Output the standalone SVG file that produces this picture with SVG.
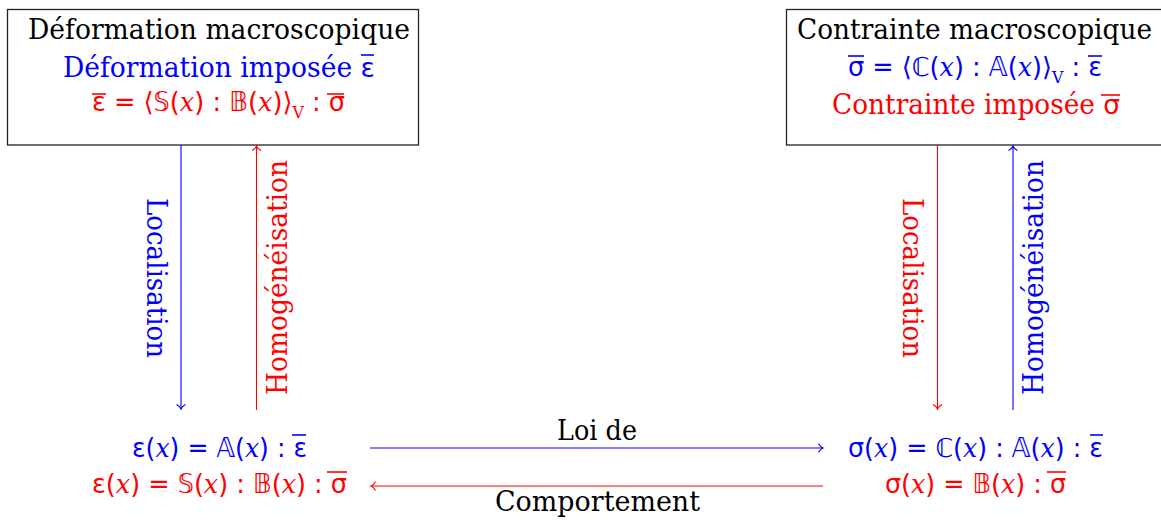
<svg xmlns="http://www.w3.org/2000/svg" width="1161" height="521" viewBox="0 0 1161 521">
<defs>
<style>
.t{font-family:"DejaVu Serif","Liberation Serif",serif;font-size:27px}
.m{font-family:"DejaVu Sans","Liberation Sans",sans-serif;font-size:26px}
.g{font-family:"DejaVu Sans",sans-serif}
.x{font-family:"DejaVu Serif","Liberation Serif",serif;font-style:italic}
.sub{font-family:"DejaVu Serif","Liberation Serif",serif;font-size:16px}
.b{fill:#0000ff}
.r{fill:#ff0000}
.k{fill:#000000}
.box{fill:#ffffff;stroke:#222222;stroke-width:1.3}
.cb{stroke:#0000ff;stroke-width:1.1;fill:none}
.cr{stroke:#ff0000;stroke-width:1.1;fill:none}
.ob{stroke:#0000ff;stroke-width:1.6}
.or{stroke:#ff0000;stroke-width:1.6}
</style>
<marker id="ab" markerUnits="userSpaceOnUse" markerWidth="12" markerHeight="12" refX="0" refY="0" viewBox="-6 -6 12 12" orient="auto" overflow="visible">
<path d="M -4.5 -4.5 C -3 -1.6 -1.2 -0.4 0 0 C -1.2 0.4 -3 1.6 -4.5 4.5" fill="none" stroke="#0000ff" stroke-width="1.1"/>
</marker>
<marker id="ar" markerUnits="userSpaceOnUse" markerWidth="12" markerHeight="12" refX="0" refY="0" viewBox="-6 -6 12 12" orient="auto" overflow="visible">
<path d="M -4.5 -4.5 C -3 -1.6 -1.2 -0.4 0 0 C -1.2 0.4 -3 1.6 -4.5 4.5" fill="none" stroke="#ff0000" stroke-width="1.1"/>
</marker>
</defs>
<rect width="1161" height="521" fill="#ffffff"/>

<g id="macro-deformation">
<rect class="box" x="7.5" y="9.5" width="411" height="135.5"/>
<text class="t k" x="28" y="39" textLength="382" lengthAdjust="spacingAndGlyphs">Déformation macroscopique</text>
<text class="t b" x="63" y="77" textLength="312" lengthAdjust="spacingAndGlyphs">Déformation imposée <tspan class="g">ε</tspan></text>
<line class="ob" x1="361" y1="55" x2="374" y2="55"/>
<text class="m r" x="92" y="111" textLength="253" lengthAdjust="spacingAndGlyphs">ε = ⟨𝕊(<tspan class="x">x</tspan>) : 𝔹(<tspan class="x">x</tspan>)⟩<tspan class="sub" dy="7">V</tspan><tspan dy="-7"> : σ</tspan></text>
<line class="or" x1="92" y1="94" x2="106" y2="94"/>
<line class="or" x1="327" y1="94" x2="344" y2="94"/>
</g>

<g id="macro-contrainte">
<rect class="box" x="786.5" y="9.5" width="390" height="135.5"/>
<text class="t k" x="797" y="39" textLength="355" lengthAdjust="spacingAndGlyphs">Contrainte macroscopique</text>
<text class="m b" x="848" y="76" textLength="254" lengthAdjust="spacingAndGlyphs">σ = ⟨ℂ(<tspan class="x">x</tspan>) : 𝔸(<tspan class="x">x</tspan>)⟩<tspan class="sub" dy="7">V</tspan><tspan dy="-7"> : ε</tspan></text>
<line class="ob" x1="848" y1="56" x2="864" y2="56"/>
<line class="ob" x1="1088" y1="56" x2="1102" y2="56"/>
<text class="t r" x="832" y="114" textLength="288" lengthAdjust="spacingAndGlyphs">Contrainte imposée <tspan class="g">σ</tspan></text>
<line class="or" x1="1101" y1="95" x2="1120" y2="95"/>
</g>

<g id="micro-deformation">
<text class="m b" x="132" y="457" textLength="175" lengthAdjust="spacingAndGlyphs">ε(<tspan class="x">x</tspan>) = 𝔸(<tspan class="x">x</tspan>) : ε</text>
<line class="ob" x1="292" y1="435" x2="306" y2="435"/>
<text class="m r" x="92" y="493" textLength="255" lengthAdjust="spacingAndGlyphs">ε(<tspan class="x">x</tspan>) = 𝕊(<tspan class="x">x</tspan>) : 𝔹(<tspan class="x">x</tspan>) : σ</text>
<line class="or" x1="327" y1="472" x2="347" y2="472"/>
</g>

<g id="micro-contrainte">
<text class="m b" x="848" y="457" textLength="255" lengthAdjust="spacingAndGlyphs">σ(<tspan class="x">x</tspan>) = ℂ(<tspan class="x">x</tspan>) : 𝔸(<tspan class="x">x</tspan>) : ε</text>
<line class="ob" x1="1090" y1="435" x2="1103" y2="435"/>
<text class="m r" x="885" y="493" textLength="181" lengthAdjust="spacingAndGlyphs">σ(<tspan class="x">x</tspan>) = 𝔹(<tspan class="x">x</tspan>) : σ</text>
<line class="or" x1="1047" y1="472" x2="1066" y2="472"/>
</g>

<g id="connectors">
<line class="cb" x1="181" y1="145" x2="181" y2="409" marker-end="url(#ab)"/>
<line class="cr" x1="256.5" y1="410" x2="256.5" y2="146" marker-end="url(#ar)"/>
<line class="cr" x1="937.5" y1="145" x2="937.5" y2="409" marker-end="url(#ar)"/>
<line class="cb" x1="1013" y1="410" x2="1013" y2="146" marker-end="url(#ab)"/>
<line class="cb" x1="370" y1="448" x2="823" y2="448" marker-end="url(#ab)"/>
<line class="cr" x1="823" y1="486" x2="371" y2="486" marker-end="url(#ar)"/>
<text class="t b" transform="translate(147,278) rotate(90)" x="0" y="0" text-anchor="middle" textLength="160" lengthAdjust="spacingAndGlyphs">Localisation</text>
<text class="t r" transform="translate(287,277.5) rotate(-90)" x="0" y="0" text-anchor="middle" textLength="235" lengthAdjust="spacingAndGlyphs">Homogénéisation</text>
<text class="t r" transform="translate(903,278) rotate(90)" x="0" y="0" text-anchor="middle" textLength="160" lengthAdjust="spacingAndGlyphs">Localisation</text>
<text class="t b" transform="translate(1043,277.5) rotate(-90)" x="0" y="0" text-anchor="middle" textLength="235" lengthAdjust="spacingAndGlyphs">Homogénéisation</text>
<text class="t k" x="557" y="440" textLength="80" lengthAdjust="spacingAndGlyphs">Loi de</text>
<text class="t k" x="495" y="511" textLength="205" lengthAdjust="spacingAndGlyphs">Comportement</text>
</g>
</svg>
